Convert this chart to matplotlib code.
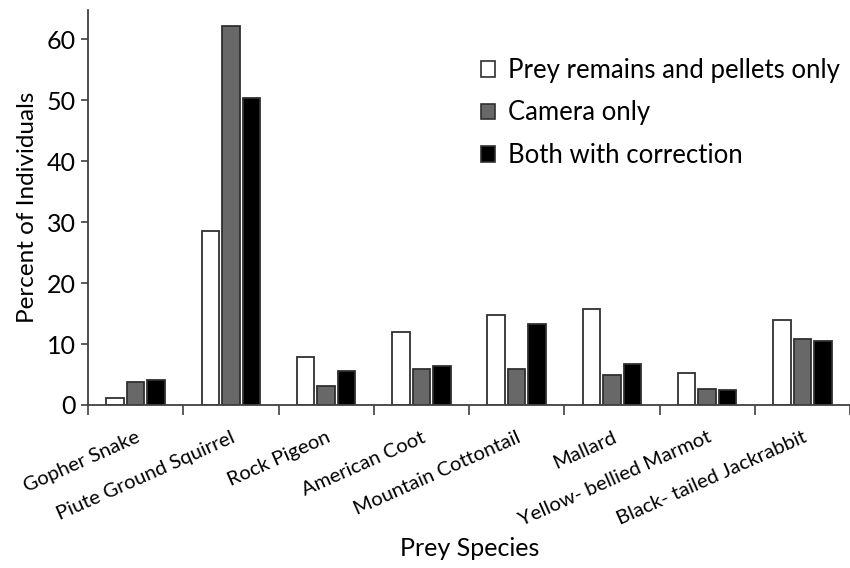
import matplotlib
matplotlib.use("Agg")
import matplotlib.pyplot as plt
import numpy as np

categories = ["Gopher Snake", "Piute Ground Squirrel", "Rock Pigeon", "American Coot",
              "Mountain Cottontail", "Mallard", "Yellow- bellied Marmot", "Black- tailed Jackrabbit"]
series_names = ["Prey remains and pellets only", "Camera only", "Both with correction"]
prey_remains = [1.1, 28.6, 7.8, 11.9, 14.8, 15.7, 5.3, 14.0]
camera_only = [3.7, 62.1, 3.1, 5.9, 5.9, 5.0, 2.7, 10.8]
both_corr = [4.1, 50.4, 5.6, 6.4, 13.3, 6.8, 2.4, 10.5]
yticks = [0, 10, 20, 30, 40, 50, 60]

plt.rcParams['font.family'] = ['Lato', 'DejaVu Sans']

fig = plt.figure(figsize=(8.5, 5.68), dpi=100)
ax = fig.add_axes([88/850, 163/568, 762/850, 395/568])

x = np.arange(len(categories))
w = 0.185
off = 0.215
edge = '#303030'
ax.bar(x - off, prey_remains, w, color='white', edgecolor=edge, linewidth=1.3, label=series_names[0])
ax.bar(x, camera_only, w, color='#686868', edgecolor=edge, linewidth=1.3, label=series_names[1])
ax.bar(x + off, both_corr, w, color='black', edgecolor=edge, linewidth=1.3, label=series_names[2])

ax.set_xlim(-0.5, len(categories) - 0.5)
ax.set_ylim(0, 64.8)
ax.set_yticks(yticks)
ax.tick_params(axis='y', labelsize=18, length=5, width=1.2, color='#404040', pad=4)

ax.set_xticks(np.arange(len(categories) + 1) - 0.5)
ax.set_xticklabels([])
ax.tick_params(axis='x', length=7, width=1.2, color='#404040')
ax.set_xticks(x, minor=True)
ax.set_xticklabels(categories, minor=True, rotation=24, ha='right', va='top',
                   rotation_mode='anchor', fontsize=14.6)
ax.tick_params(axis='x', which='minor', length=0, pad=17)

for s in ['top', 'right']:
    ax.spines[s].set_visible(False)
for s in ['left', 'bottom']:
    ax.spines[s].set_color('#404040')
    ax.spines[s].set_linewidth(1.3)

ax.set_ylabel("Percent of Individuals", fontsize=17.5)
ax.yaxis.set_label_coords(-0.066, 0.5)
fig.text(470/850, 1 - 549/568, "Prey Species", fontsize=18, ha='center', va='center')

leg = ax.legend(frameon=False, fontsize=18.5, loc='upper left',
                bbox_to_anchor=(481/850, 1 - 58/568), bbox_transform=fig.transFigure,
                handlelength=0.56, handleheight=0.56, handletextpad=0.5,
                labelspacing=0.68, borderpad=0, borderaxespad=0)
for h in leg.legend_handles:
    h.set_linewidth(1.2)

fig.savefig("out.png", dpi=100)
